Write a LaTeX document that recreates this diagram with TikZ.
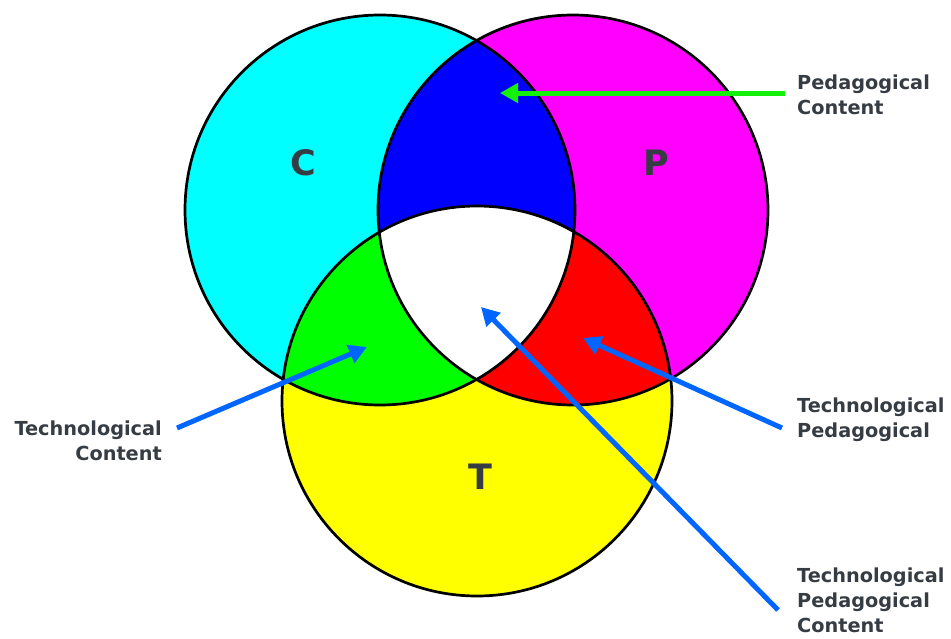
\documentclass[tikz,border=0pt]{standalone}
\usepackage{fontspec}
\setmainfont{DejaVu Sans}
\usetikzlibrary{arrows.meta}
\definecolor{txt}{RGB}{54,60,68}
\definecolor{arrblue}{RGB}{0,102,255}
\definecolor{arrgreen}{RGB}{20,240,10}
\definecolor{cC}{RGB}{0,255,255}
\definecolor{cP}{RGB}{255,0,255}
\definecolor{cT}{RGB}{255,255,0}
\definecolor{cCP}{RGB}{0,0,255}
\definecolor{cCT}{RGB}{0,255,0}
\definecolor{cPT}{RGB}{255,0,0}
\definecolor{cAll}{RGB}{255,255,255}
\tikzset{
  lbl/.style={font=\fontsize{19.3}{25}\selectfont\bfseries, text=txt, inner sep=0pt},
  big/.style={font=\fontsize{35}{35}\selectfont\bfseries, text=txt, inner sep=0pt},
  ring/.style={draw=black, line width=2.7pt},
  pointer/.style={line width=5pt, -{Triangle[length=18pt,width=19pt]}},
}
\begin{document}
\begin{tikzpicture}[x=1pt,y=-1pt]
\useasboundingbox (0,0) rectangle (951,638);
\coordinate (oC) at (380,210);
\coordinate (oP) at (573,210);
\coordinate (oT) at (477,401);
\def\R{195}
% base fills
\fill[cC] (oC) circle[radius=\R];
\fill[cP] (oP) circle[radius=\R];
\fill[cT] (oT) circle[radius=\R];
% pairwise overlaps
\begin{scope}
  \clip (oC) circle[radius=\R];
  \fill[cCP] (oP) circle[radius=\R];
  \fill[cCT] (oT) circle[radius=\R];
\end{scope}
\begin{scope}
  \clip (oP) circle[radius=\R];
  \fill[cPT] (oT) circle[radius=\R];
\end{scope}
\begin{scope}
  \clip (oC) circle[radius=\R];
  \clip (oP) circle[radius=\R];
  \fill[cAll] (oT) circle[radius=\R];
\end{scope}
% outlines
\draw[ring] (oC) circle[radius=\R];
\draw[ring] (oP) circle[radius=\R];
\draw[ring] (oT) circle[radius=\R];
% set letters
\node[big] (C) at (303,163) {C};
\node[big] (P) at (656,163) {P};
\node[big] (T) at (480,477) {T};
% labels
\node[lbl, align=left, anchor=north west] (lPC) at (797,74.5) {Pedagogical\\Content};
\node[lbl, align=right, anchor=north east] (lTC) at (162,420.5) {Technological\\Content};
\node[lbl, align=left, anchor=north west] (lTP) at (797,397.5) {Technological\\Pedagogical};
\node[lbl, align=left, anchor=north west] (lTPC) at (797,567.5) {Technological\\Pedagogical\\Content};
% arrow ends
\coordinate (sPC) at (785,93);   \coordinate (tPC) at (500,93);
\coordinate (sTC) at (177,428);  \coordinate (tTC) at (367,347);
\coordinate (sTP) at (782,428);  \coordinate (tTP) at (583,338);
\coordinate (sTPC) at (778,610); \coordinate (tTPC) at (481,307);
\draw[pointer, arrgreen] (sPC) -- (tPC);
\draw[pointer, arrblue] (sTC) -- (tTC);
\draw[pointer, arrblue] (sTP) -- (tTP);
\draw[pointer, arrblue] (sTPC) -- (tTPC);
\end{tikzpicture}
\end{document}
